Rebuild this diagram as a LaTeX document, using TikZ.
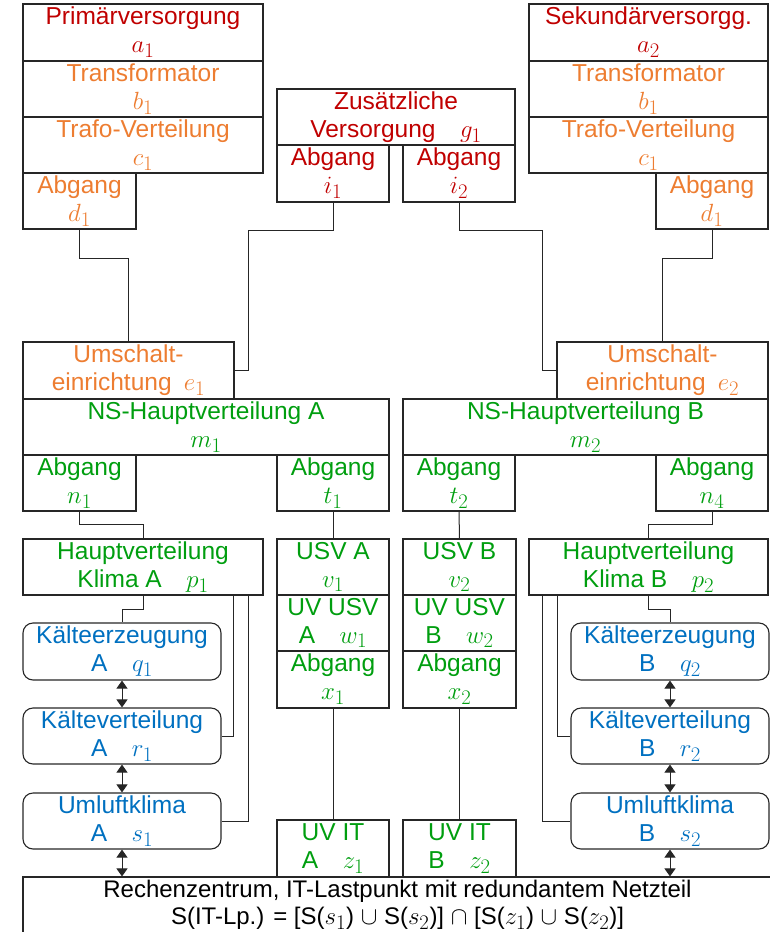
\documentclass[tikz,border=0pt]{standalone}
\usepackage{fontspec}
\setmainfont{Liberation Sans}
\usetikzlibrary{arrows.meta}

\definecolor{cRed}{HTML}{C00000}
\definecolor{cOrange}{HTML}{ED7D31}
\definecolor{cGreen}{RGB}{0,158,15}
\definecolor{cBlue}{HTML}{0070C0}

\tikzset{
  box/.style={draw=black!85, line width=1.1pt, inner sep=0pt, align=center,
    font=\fontsize{24.5}{28}\selectfont},
  redbox/.style={box, text=cRed},
  orangebox/.style={box, text=cOrange},
  greenbox/.style={box, text=cGreen},
  coolbox/.style={box, rounded corners=10pt, text=cBlue},
  itbox/.style={box, text=black, font=\fontsize{24}{27.5}\selectfont},
  wire/.style={draw=black!85, line width=1pt},
  flow/.style={wire, {Triangle[width=11pt,length=8pt]}-{Triangle[width=11pt,length=8pt]}}
}

% indexed variable, set a little larger than the text
\newcommand\iv[2]{{\fontsize{29}{28}\selectfont$#1_{#2}$}}

% box given by its corners: name, x1, y1, x2, y2, style, text
\newcommand\bx[7]{%
  \node[#6, minimum width={(#4-#2)*1pt}, minimum height={(#5-#3)*1pt}]
    (#1) at ({(#2+#4)/2},{(#3+#5)/2}) {#7};}

\begin{document}
\begin{tikzpicture}[x=1pt, y=-1pt]
\useasboundingbox (0,0) rectangle (769,932);

% primary supply (left)
\bx{a1}{23}{4}{263}{61}{redbox}{Primärversorgung\\\iv{a}{1}}
\bx{b1L}{23}{61}{263}{117}{orangebox}{Transformator\\\iv{b}{1}}
\bx{c1L}{23}{117}{263}{173}{orangebox}{Trafo-Verteilung\\\iv{c}{1}}
\bx{d1L}{23}{173}{136}{229}{orangebox}{Abgang\\\iv{d}{1}}

% secondary supply (right)
\bx{a2}{529}{4}{768}{61}{redbox}{Sekundärversorgg.\\\iv{a}{2}}
\bx{b1R}{529}{61}{768}{117}{orangebox}{Transformator\\\iv{b}{1}}
\bx{c1R}{529}{117}{768}{173}{orangebox}{Trafo-Verteilung\\\iv{c}{1}}
\bx{d1R}{656}{173}{768}{229}{orangebox}{Abgang\\\iv{d}{1}}

% additional supply
\bx{g1}{277}{89}{515}{145}{redbox}{Zusätzliche\\Versorgung\quad\iv{g}{1}}
\bx{i1}{277}{145}{389}{202}{redbox}{Abgang\\\iv{i}{1}}
\bx{i2}{403}{145}{515}{202}{redbox}{Abgang\\\iv{i}{2}}

% transfer switches
\bx{e1}{23}{342}{234}{399}{orangebox}{Umschalt-\\einrichtung\enspace\iv{e}{1}}
\bx{e2}{557}{342}{768}{399}{orangebox}{Umschalt-\\einrichtung\enspace\iv{e}{2}}

% low-voltage main distribution
\bx{m1}{23}{399}{389}{455}{greenbox}{NS-Hauptverteilung A\\\iv{m}{1}}
\bx{m2}{403}{399}{768}{455}{greenbox}{NS-Hauptverteilung B\\\iv{m}{2}}
\bx{n1}{23}{455}{136}{511}{greenbox}{Abgang\\\iv{n}{1}}
\bx{t1}{277}{455}{389}{511}{greenbox}{Abgang\\\iv{t}{1}}
\bx{t2}{403}{455}{515}{511}{greenbox}{Abgang\\\iv{t}{2}}
\bx{n4}{656}{455}{768}{511}{greenbox}{Abgang\\\iv{n}{4}}

% climate distribution
\bx{p1}{23}{539}{263}{595}{greenbox}{Hauptverteilung\\Klima A\quad\iv{p}{1}}
\bx{p2}{529}{539}{768}{595}{greenbox}{Hauptverteilung\\Klima B\quad\iv{p}{2}}

% UPS chains
\bx{v1}{277}{539}{389}{595}{greenbox}{USV A\\\iv{v}{1}}
\bx{w1}{277}{595}{389}{651}{greenbox}{UV USV\\A\quad\iv{w}{1}}
\bx{x1}{277}{651}{389}{708}{greenbox}{Abgang\\\iv{x}{1}}
\bx{v2}{403}{539}{516}{595}{greenbox}{USV B\\\iv{v}{2}}
\bx{w2}{403}{595}{516}{651}{greenbox}{UV USV\\B\quad\iv{w}{2}}
\bx{x2}{403}{651}{516}{708}{greenbox}{Abgang\\\iv{x}{2}}
\bx{z1}{277}{820}{389}{877}{greenbox}{UV IT\\A\quad\iv{z}{1}}
\bx{z2}{403}{820}{516}{877}{greenbox}{UV IT\\B\quad\iv{z}{2}}

% cooling chains
\bx{q1}{23}{623}{221}{680}{coolbox}{Kälteerzeugung\\A\quad\iv{q}{1}}
\bx{r1}{23}{708}{221}{764}{coolbox}{Kälteverteilung\\A\quad\iv{r}{1}}
\bx{s1}{23}{793}{221}{849}{coolbox}{Umluftklima\\A\quad\iv{s}{1}}
\bx{q2}{571}{623}{769}{680}{coolbox}{Kälteerzeugung\\B\quad\iv{q}{2}}
\bx{r2}{571}{708}{769}{764}{coolbox}{Kälteverteilung\\B\quad\iv{r}{2}}
\bx{s2}{571}{793}{769}{849}{coolbox}{Umluftklima\\B\quad\iv{s}{2}}

% data centre load point
\bx{rz}{23}{877}{772}{933}{itbox}{Rechenzentrum, IT-Lastpunkt mit redundantem Netzteil\\
  S(IT-Lp.) = [S(\iv{s}{1}) $\cup$ S(\iv{s}{2})] $\cap$ [S(\iv{z}{1}) $\cup$ S(\iv{z}{2})]}

% supply connections
\draw[wire] (d1L.south) -- ++(0,29) -| (e1.north);
\draw[wire] (d1R.south) -- ++(0,29) -| (e2.north);
\draw[wire] (i1.south) -- ++(0,28) -| ([xshift=14pt]e1.east) -- (e1.east);
\draw[wire] (i2.south) -- ++(0,28) -| ([xshift=-14pt]e2.west) -- (e2.west);

% feeders
\draw[wire] (n1.south) -- ++(0,13) -| (p1.north);
\draw[wire] (n4.south) -- ++(0,13) -| (p2.north);
\draw[wire] (t1.south) -- (v1.north);
\draw[wire] (t2.south) -- (v2.north);
\draw[wire] (x1.south) -- (z1.north);
\draw[wire] (x2.south) -- (z2.north);

% climate feeders
\draw[wire] (p1.south) -- ++(0,14) -| (q1.north);
\draw[wire] ([xshift=-30pt]p1.south east) |- (r1.east);
\draw[wire] ([xshift=-15pt]p1.south east) |- (s1.east);
\draw[wire] (p2.south) -- ++(0,14) -| (q2.north);
\draw[wire] ([xshift=29pt]p2.south west) |- (r2.west);
\draw[wire] ([xshift=14pt]p2.south west) |- (s2.west);

% cooling flow
\draw[flow] (q1.south) -- (r1.north);
\draw[flow] (r1.south) -- (s1.north);
\draw[flow] (s1.south) -- (s1.south |- rz.north);
\draw[flow] (q2.south) -- (r2.north);
\draw[flow] (r2.south) -- (s2.north);
\draw[flow] (s2.south) -- (s2.south |- rz.north);
\end{tikzpicture}
\end{document}
